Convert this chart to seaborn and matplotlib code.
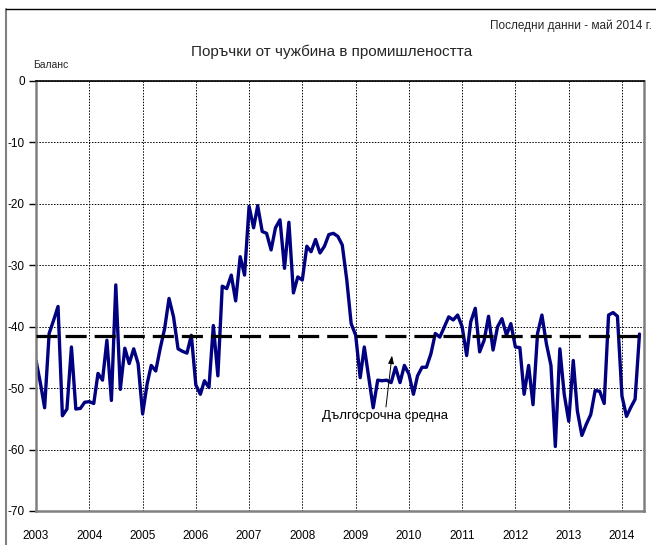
import numpy as np
import pandas as pd
import seaborn as sns
import matplotlib
matplotlib.use("Agg")
import matplotlib.pyplot as plt
import matplotlib.dates as mdates

# monthly balance, Jan 2003 - May 2014
balance_2003 = [-45.5, -49.3, -53.2, -41.1, -39.0, -36.7, -54.5, -53.4, -43.3, -53.4, -53.3, -52.3]
balance_2004 = [-52.2, -52.5, -47.6, -48.7, -42.2, -52.0, -33.2, -50.2, -43.5, -46.0, -43.6, -46.0]
balance_2005 = [-54.2, -49.3, -46.3, -47.2, -43.6, -40.3, -35.4, -38.4, -43.6, -44.0, -44.3, -41.4]
balance_2006 = [-49.5, -51.0, -48.8, -49.9, -39.8, -48.0, -33.4, -33.8, -31.6, -35.8, -28.6, -31.6]
balance_2007 = [-20.4, -23.9, -20.3, -24.5, -24.8, -27.5, -23.9, -22.6, -30.5, -23.0, -34.5, -31.9]
balance_2008 = [-32.4, -26.9, -27.8, -25.8, -28.0, -26.9, -25.0, -24.8, -25.3, -26.7, -32.4, -39.5]
balance_2009 = [-41.4, -48.3, -43.3, -48.3, -53.2, -48.7, -48.8, -48.7, -49.1, -46.6, -49.1, -46.3]
balance_2010 = [-47.7, -51.0, -48.0, -46.6, -46.6, -44.4, -41.1, -41.7, -40.0, -38.4, -38.9, -38.1]
balance_2011 = [-40.0, -44.7, -39.2, -37.0, -44.1, -42.2, -38.3, -43.8, -40.0, -38.7, -41.4, -39.5]
balance_2012 = [-43.3, -43.4, -51.0, -46.3, -52.7, -41.1, -38.1, -42.8, -46.3, -59.5, -43.6, -51.0]
balance_2013 = [-55.4, -45.5, -53.7, -57.7, -55.9, -54.3, -50.4, -50.5, -52.5, -38.1, -37.7, -38.3]
balance_2014 = [-51.3, -54.6, -53.2, -51.8, -41.2]

long_term_mean = -41.5
years = list(range(2003, 2015))
y_ticks = [0, -10, -20, -30, -40, -50, -60, -70]

balance = (balance_2003 + balance_2004 + balance_2005 + balance_2006 + balance_2007 + balance_2008
           + balance_2009 + balance_2010 + balance_2011 + balance_2012 + balance_2013 + balance_2014)
df = pd.DataFrame({
    "month": pd.date_range("2003-01-01", periods=len(balance), freq="MS"),
    "balance": balance,
})

sns.set_theme(style="white")
plt.rcParams["font.family"] = ["Liberation Sans", "DejaVu Sans"]
plt.rcParams["axes.unicode_minus"] = False

fig = plt.figure(figsize=(6.56, 5.45), dpi=100)
ax = fig.add_axes([0.0549, 0.0624, 0.9268, 0.789])

sns.lineplot(data=df, x="month", y="balance", ax=ax, color="#000080", linewidth=2.4)
ax.axhline(long_term_mean, color="black", linewidth=2.3, linestyle=(0, (6.6, 2.5)), zorder=3)

ax.set_xlim(pd.Timestamp("2003-01-01"), pd.Timestamp("2014-06-01"))
ax.set_ylim(-70, 0)
ax.set_yticks(y_ticks)
ax.set_xticks([pd.Timestamp(f"{y}-01-01") for y in years])
ax.xaxis.set_major_formatter(mdates.DateFormatter("%Y"))
ax.grid(True, color="black", linestyle=(0, (1.5, 1.5)), linewidth=0.7)
ax.set_xlabel("")
ax.set_ylabel("")
ax.tick_params(axis="y", length=5, width=1, color="black", direction="out", labelsize=8.5, pad=3, left=True)
ax.tick_params(axis="x", length=0, labelsize=8.5, pad=14)
for lab in ax.get_xticklabels() + ax.get_yticklabels():
    lab.set_color("black")

for side in ["left", "right", "bottom"]:
    ax.spines[side].set_color("#808080")
    ax.spines[side].set_linewidth(1.8)
ax.spines["top"].set_color("black")
ax.spines["top"].set_linewidth(1.2)

ax.annotate("Дългосрочна средна",
            xy=(pd.Timestamp("2009-09-07"), -44.7),
            xytext=(pd.Timestamp("2009-07-20"), -53.6),
            ha="center", va="top", fontsize=9.5, color="black",
            arrowprops=dict(arrowstyle="-|>,head_length=0.5,head_width=0.18", color="black",
                            linewidth=0.7, shrinkA=0, shrinkB=0))

fig.text(0.505, 0.905, "Поръчки от чужбина в промишлеността", ha="center", va="center", fontsize=11)
fig.text(0.994, 0.953, "Последни данни - май 2014 г.", ha="right", va="center", fontsize=8.5)
fig.text(0.05, 0.881, "Баланс", ha="left", va="center", fontsize=7.5)

# outer frame on the left and top
fig.add_artist(plt.Line2D([0.0095, 0.0095], [0, 0.984], transform=fig.transFigure, color="#808080", linewidth=1.5))
fig.add_artist(plt.Line2D([0.0095, 1.0], [0.984, 0.984], transform=fig.transFigure, color="black", linewidth=1.0))

fig.savefig("out.png", dpi=100)
